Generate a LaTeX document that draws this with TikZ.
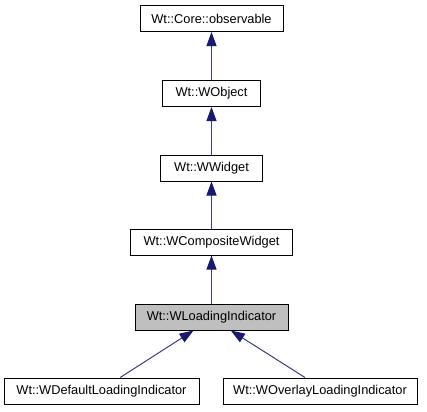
\documentclass[tikz,border=0pt]{standalone}
\usepackage{fontspec}
\setmainfont{Liberation Sans}
\usepackage{tikz}
\usetikzlibrary{arrows.meta}
\definecolor{midnightblue}{RGB}{25,25,112}
\tikzset{
        class/.style = { draw=black, fill=white, line width=0.75pt, minimum height=19.5pt,
                         inner sep=0pt, font=\fontsize{9.6}{11}\selectfont },
      current/.style = { class, fill=black!25 },
         edge/.style = { midnightblue!85, line width=0.75pt,
                         {Triangle[length=10.5pt,width=7.5pt,fill=midnightblue,color=midnightblue]}-{} }
}
\begin{document}
\begin{tikzpicture}[x=0.75pt, y=-0.75pt]
  \useasboundingbox (0,0) rectangle (427,411);

  % classes
  \node (observable) at(211.5,18.5)  [class, minimum width=107.25pt] {Wt::Core::observable};
  \node (wobject)    at(211.5,93.5)  [class, minimum width=73.5pt]   {Wt::WObject};
  \node (wwidget)    at(211.5,168)   [class, minimum width=76.5pt]   {Wt::WWidget};
  \node (wcomposite) at(211.5,242)   [class, minimum width=121.5pt]  {Wt::WCompositeWidget};
  \node (wloading)   at(211.5,317)   [current, minimum width=114.75pt] {Wt::WLoadingIndicator};
  \node (wdefault)   at(101.5,391)   [class, minimum width=146.25pt] {Wt::WDefaultLoadingIndicator};
  \node (woverlay)   at(320,391)     [class, minimum width=145.5pt]  {Wt::WOverlayLoadingIndicator};

  % inheritance
  \draw [edge] (observable) -- (wobject);
  \draw [edge] (wobject)    -- (wwidget);
  \draw [edge] (wwidget)    -- (wcomposite);
  \draw [edge] (wcomposite) -- (wloading);
  \draw [edge] ([xshift=-13.5pt]wloading.south) -- ([xshift=14pt]wdefault.north);
  \draw [edge] ([xshift=14.5pt]wloading.south)  -- ([xshift=-11.25pt]woverlay.north);
\end{tikzpicture}
\end{document}
